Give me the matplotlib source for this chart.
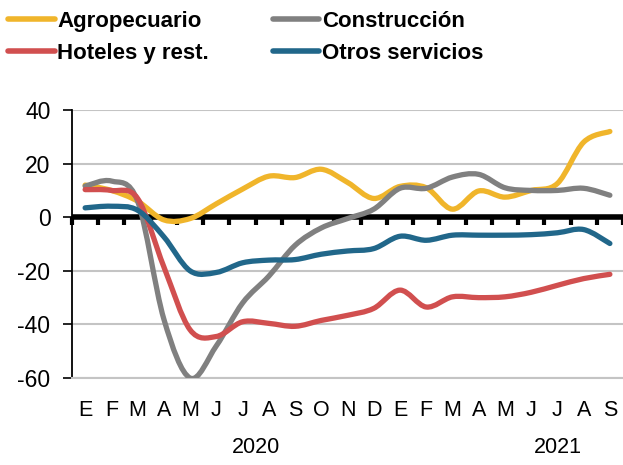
import numpy as np
import matplotlib.pyplot as plt
from matplotlib.path import Path
from matplotlib.patches import PathPatch
from matplotlib.lines import Line2D

plt.rcParams['font.family'] = ['Liberation Sans', 'DejaVu Sans']
plt.rcParams['axes.unicode_minus'] = False

months = ["E", "F", "M", "A", "M", "J", "J", "A", "S", "O", "N", "D",
          "E", "F", "M", "A", "M", "J", "J", "A", "S"]
years = ["2020", "2021"]

agropecuario = [12, 10, 6, -1, -0.5, 5, 10.5, 15.3, 14.8, 17.9, 13, 7,
                11.5, 11, 3, 9.8, 7.5, 10, 12.6, 28, 32]
construccion = [11.6, 13.5, 6, -38, -60, -48, -32, -22, -10.5, -4, -0.5, 3,
                10.8, 10.8, 15, 16, 11, 10, 10, 10.8, 8.2]
hoteles = [10.3, 10, 7, -18.5, -42, -44.5, -39, -39.6, -40.7, -38.5, -36.6, -34,
           -27.2, -33.5, -29.7, -30, -29.7, -28, -25.4, -22.9, -21.3]
otros = [3.5, 4.1, 2.6, -7.3, -20, -20.6, -17, -16, -15.8, -13.8, -12.6, -11.7,
         -7.1, -8.6, -6.7, -6.7, -6.7, -6.5, -5.8, -4.6, -9.8]

series = [
    ("Agropecuario", agropecuario, "#f0b52b"),
    ("Construcción", construccion, "#808080"),
    ("Hoteles y rest.", hoteles, "#d14f4f"),
    ("Otros servicios", otros, "#21678a"),
]


def smooth_path(x, y):
    # bezier curve through the points, like excel's smoothed lines
    pts = np.column_stack([x, y]).astype(float)
    n = len(pts)
    verts = [pts[0]]
    codes = [Path.MOVETO]
    for i in range(n - 1):
        p0 = pts[max(i - 1, 0)]
        p1 = pts[i]
        p2 = pts[i + 1]
        p3 = pts[min(i + 2, n - 1)]
        c1 = p1 + (p2 - p0) / 6.0
        c2 = p2 - (p3 - p1) / 6.0
        verts += [c1, c2, p2]
        codes += [Path.CURVE4] * 3
    return Path(verts, codes)


fig = plt.figure(figsize=(6.23, 4.65), dpi=100)
ax = fig.add_axes([0.1156, 0.187, 0.8844, 0.5764])

x = np.arange(len(months))
ax.set_xlim(-0.5, len(months) - 0.5)
ax.set_ylim(-60, 40)

ax.set_yticks([-60, -40, -20, 0, 20, 40])
ax.yaxis.grid(True, color="#c4c4c4", lw=1.5)
ax.set_axisbelow(True)
ax.tick_params(axis="y", labelsize=16.5, length=6.5, width=1.2, pad=9)

for s in ["top", "right"]:
    ax.spines[s].set_visible(False)
ax.spines["left"].set_linewidth(1.3)
ax.spines["bottom"].set_color("#c4c4c4")
ax.spines["bottom"].set_linewidth(1.5)

ax.set_xticks(x)
ax.set_xticklabels(months)
ax.tick_params(axis="x", length=0, labelsize=15.5, pad=16)

# zero line with category tick marks
ax.axhline(0, color="black", lw=4, zorder=2)
zero = ax.secondary_xaxis(0.6)
zero.xaxis.set_ticks_position("bottom")
zero.set_xticks(np.arange(-0.5, len(months), 1.0))
zero.set_xticklabels([])
zero.tick_params(axis="x", length=6, width=3, direction="out",
                 labelbottom=False, labeltop=False)
for s in zero.spines.values():
    s.set_visible(False)

for label, vals, color in series:
    ax.add_patch(PathPatch(smooth_path(x, vals), fill=False, edgecolor=color,
                           lw=3.8, capstyle="round", joinstyle="round", zorder=3))

# year labels
ax.text(6.5, -0.26, years[0], transform=ax.get_xaxis_transform(),
        ha="center", va="center", fontsize=15.5)
ax.text(18, -0.26, years[1], transform=ax.get_xaxis_transform(),
        ha="center", va="center", fontsize=15.5)

order = [0, 2, 1, 3]
handles = [Line2D([], [], color=series[i][2], lw=4, solid_capstyle="round") for i in order]
labels = [series[i][0] for i in order]
fig.legend(handles, labels, loc="upper left", bbox_to_anchor=(-0.019, 1.02), ncol=2,
           frameon=False, handlelength=2.1, handletextpad=0.12, columnspacing=2.85,
           labelspacing=0.5, prop={"weight": "bold", "size": 16})

fig.savefig("out.png", dpi=100)
